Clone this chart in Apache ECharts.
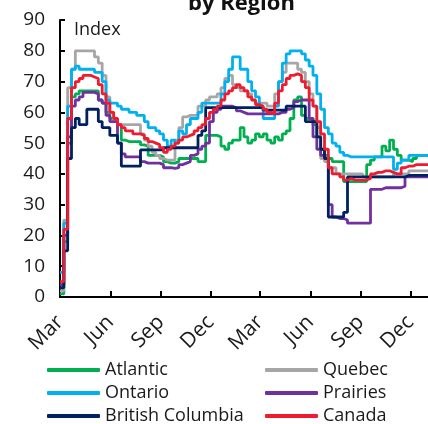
<!DOCTYPE html>
<html>
<head>
<meta charset="utf-8">
<script src="https://cdn.jsdelivr.net/npm/echarts@6/dist/echarts.min.js"></script>
<style>
  html, body { margin: 0; padding: 0; background: #fff; }
  #chart { width: 428px; height: 424px; }
</style>
</head>
<body>
<div id="chart"></div>
<script>
// Weekly index readings by region, first week starting 1 March 2020.
const FONT = '"Open Sans", "Noto Sans", sans-serif';
const TEXT_COLOR = '#1a1a1a';

const weekStep = 7; // days between readings
const tickDays = [0, 92, 184, 275, 365, 457, 549, 640];
const tickLabels = ['Mar', 'Jun', 'Sep', 'Dec', 'Mar', 'Jun', 'Sep', 'Dec'];

const atlantic = [
  1, 18, 50, 65, 66, 67, 67, 67, 67, 67,
  64, 63, 60, 58, 58, 56, 51, 50.5, 50.5, 50.5,
  50.5, 49.4, 49, 46, 46, 46, 45.5, 44, 43.5, 43.5,
  44, 45, 45, 45, 45, 45, 44, 44, 52.5, 52.5,
  52.5, 52, 49, 48, 50, 51, 51, 55, 52, 50,
  51, 53, 52, 53, 51, 50, 52, 51, 53, 54,
  58, 64, 65, 59, 58, 58, 56, 52, 48, 46,
  45, 44, 44, 44, 37.5, 37.5, 37.5, 37.5, 37.5, 37.5,
  43, 44.5, 45.5, 45.5, 49, 47.5, 51, 48, 46, 44.5,
  44.5, 44, 45, 46, 46, 46, 46
];
const quebec = [
  2, 25, 68, 74, 80, 80, 80, 80, 80, 78,
  76, 72, 65, 60, 57, 56, 56, 56, 56, 56,
  56, 53, 51, 49, 47, 46, 45, 44.5, 44.5, 44.5,
  51, 55, 58.5, 59, 59, 59, 62, 62, 64, 65,
  65, 66, 68, 71, 72, 69, 68, 67, 67, 66,
  64, 63, 63, 63, 62, 62, 66, 70, 73, 76,
  76, 76, 74, 73, 70, 66, 62, 55, 45, 44,
  42, 42, 40, 40, 40, 40, 40, 40, 40, 39,
  39, 39, 39, 39, 39, 39, 39, 40, 40, 40,
  40, 41, 41, 41, 41, 41, 41
];
const ontario = [
  8, 24, 62, 74, 75, 74, 74, 74, 74, 73,
  73, 70, 64, 63, 63, 62, 61, 61, 60, 60,
  59, 59, 57, 55, 55, 54, 53, 51, 49, 51,
  50, 54, 53, 56, 58, 58, 60, 63, 63, 63,
  63, 63, 66, 70, 74, 78, 78, 74, 74, 70,
  67, 65, 62, 58, 58, 58, 62, 70, 76, 79,
  80, 80, 80, 79, 77, 75, 72, 66, 61, 55,
  53, 50, 49, 47, 46, 45.5, 45.5, 45.5, 45.5, 45.5,
  45.5, 45.5, 45.5, 45.5, 45.5, 45.5, 45.5, 41.5, 43.5, 44.5,
  44.5, 46, 46, 46, 46, 46, 46
];
const prairies = [
  4, 20, 52, 62, 64, 65, 66.5, 66.5, 66.5, 66,
  64, 63, 59, 57, 57, 50, 46.5, 45.5, 45.5, 45.5,
  45.5, 44, 43.5, 43.5, 43.5, 43.5, 43, 42, 42, 41.8,
  42, 43, 43.5, 44, 46, 46.5, 48, 49, 50, 57,
  60, 61, 62, 62, 62, 61.5, 60.5, 60, 59.5, 59.5,
  59.5, 59.5, 59.5, 59.5, 59.5, 59.5, 59.5, 60, 60, 61,
  61.5, 63.5, 64, 64, 64, 58, 52, 48, 46, 45,
  30, 26, 25.5, 25.5, 25, 24, 24, 24, 24, 24,
  24, 35, 35, 35, 35.5, 35.5, 35.5, 35.5, 35.5, 36,
  39, 39, 39, 39, 39, 39, 39
];
const britishColumbia = [
  3, 15, 45, 55, 58, 56, 56, 61, 61, 61,
  57, 55, 55, 52.5, 52.5, 50, 42.5, 42.5, 42.5, 42.5,
  42.5, 47.8, 47.8, 47.8, 47.8, 47.8, 47.8, 48.5, 48.5, 48.5,
  48.5, 48.5, 48.5, 48.5, 48.5, 48.5, 52.5, 54, 61.5, 61.5,
  61.5, 61.5, 61.5, 61.5, 61.5, 61.5, 61.5, 61.5, 61.5, 61.5,
  61.5, 61.5, 61.5, 60.7, 60.7, 60.7, 60.7, 60.7, 60.7, 62,
  62, 62, 62, 62, 57, 57, 57, 52, 48, 45,
  26, 26, 26, 26, 27.5, 39, 39, 39, 39, 39,
  39, 39, 39, 39, 39, 39, 39, 39, 39, 39,
  39.5, 39.5, 39.5, 39.5, 39.5, 39.5, 39.5
];
const canada = [
  5, 22, 58, 68, 70, 71, 72, 72, 71.5, 71,
  69, 66, 63, 60, 58, 56, 55, 54, 54, 53,
  53, 52.5, 51.5, 50.5, 50, 49.5, 48.5, 47, 48, 49,
  50, 51, 52, 52.5, 53, 54, 55, 56, 58, 60,
  61, 62, 64, 66, 67, 68, 69, 68, 67, 65,
  64, 62.5, 62, 61, 60, 59.5, 63, 67, 69, 71,
  72, 72.5, 72, 70, 68, 64, 62, 57, 53, 48,
  42, 40, 40, 39, 38, 38.5, 38, 38, 38, 38,
  38.5, 40, 40.5, 40.5, 41, 41, 40.5, 40, 40, 42,
  42.5, 42.5, 43, 43, 43, 43, 43
];

const regions = [
  { name: 'Atlantic', color: '#00b050', values: atlantic },
  { name: 'Quebec', color: '#a6a6a6', values: quebec },
  { name: 'Ontario', color: '#00b0f0', values: ontario },
  { name: 'Prairies', color: '#7030a0', values: prairies },
  { name: 'British Columbia', color: '#002060', values: britishColumbia },
  { name: 'Canada', color: '#ee1c2e', values: canada }
];

// Legend laid out as two columns of three rows.
const legendCells = [
  { name: 'Atlantic', left: 47, top: 361 },
  { name: 'Quebec', left: 265, top: 361 },
  { name: 'Ontario', left: 47, top: 384 },
  { name: 'Prairies', left: 265, top: 384 },
  { name: 'British Columbia', left: 47, top: 407 },
  { name: 'Canada', left: 265, top: 407 }
];

const toPoints = vals => vals.map((v, i) => [i * weekStep, v]);

const chart = echarts.init(document.getElementById('chart'), null, { renderer: 'canvas' });

const legendText = { fontFamily: FONT, fontSize: 18, color: TEXT_COLOR, lineHeight: 16 };

chart.setOption({
  animation: false,
  backgroundColor: '#fff',
  title: {
    text: 'by Region',
    left: 188,
    top: -7,
    padding: 0,
    textStyle: { fontFamily: FONT, fontSize: 22, fontWeight: 'bold', color: '#111' }
  },
  grid: { left: 60, right: -9, top: 20, bottom: 127, containLabel: false },
  xAxis: {
    type: 'value',
    min: 0,
    max: 672,
    axisLine: { show: true, lineStyle: { color: '#000', width: 2 } },
    axisTick: { show: true, inside: true, length: 6, customValues: tickDays, lineStyle: { color: '#000', width: 2 } },
    axisLabel: {
      customValues: tickDays,
      formatter: v => tickLabels[tickDays.indexOf(v)] || '',
      rotate: 45,
      margin: 22,
      fontFamily: FONT,
      fontSize: 21,
      color: TEXT_COLOR
    },
    splitLine: { show: false }
  },
  yAxis: {
    type: 'value',
    min: 0,
    max: 90,
    interval: 10,
    axisLine: { show: true, lineStyle: { color: '#000', width: 2 } },
    axisTick: { show: true, inside: true, length: 5, lineStyle: { color: '#000', width: 2 } },
    axisLabel: { margin: 15, fontFamily: FONT, fontSize: 19, color: TEXT_COLOR },
    splitLine: { show: false }
  },
  graphic: [{
    type: 'text',
    left: 74,
    top: 21,
    style: { text: 'Index', font: '18px ' + FONT, fill: TEXT_COLOR }
  }],
  legend: legendCells.map(c => ({
    left: c.left,
    top: c.top,
    padding: 0,
    itemWidth: 53,
    itemHeight: 4,
    icon: 'roundRect',
    textStyle: legendText,
    data: [c.name]
  })),
  series: regions.map(r => ({
    name: r.name,
    type: 'line',
    step: 'end',
    data: toPoints(r.values),
    symbol: 'none',
    color: r.color,
    lineStyle: { color: r.color, width: 2.8 },
    clip: true
  }))
});
</script>
</body>
</html>
